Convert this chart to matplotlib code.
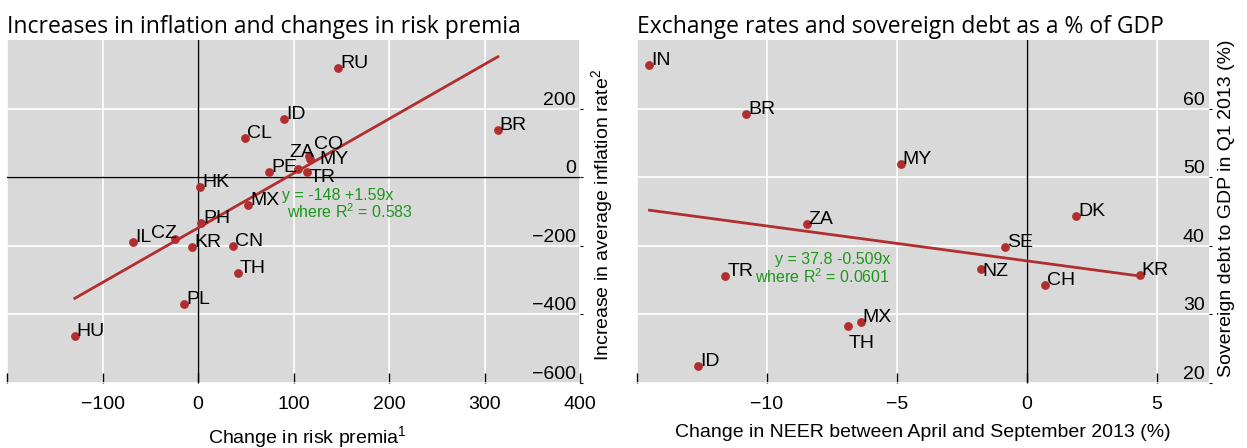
import numpy as np
import matplotlib
matplotlib.use("Agg")
import matplotlib.pyplot as plt

plt.rcParams['font.family'] = ['Liberation Sans', 'DejaVu Sans']
plt.rcParams['mathtext.fontset'] = 'custom'
plt.rcParams['mathtext.rm'] = 'Liberation Sans'
plt.rcParams['mathtext.it'] = 'Liberation Sans:italic'

# left panel: risk premia vs inflation
left_codes = ["RU", "ID", "CL", "BR", "ZA", "CO", "MY", "PE", "TR", "HK",
              "MX", "PH", "IL", "CZ", "KR", "CN", "TH", "PL", "HU"]
left_x = [147, 90, 49, 314, 105, 116, 117, 74.5, 114, 2,
          52.6, 3.3, -68, -24, -5.8, 37, 41.4, -14.5, -129]
left_y = [319, 171, 114, 138, 25, 63, 53, 15.5, 16.5, -28,
          -81, -133, -189, -181, -204, -200, -280, -371, -462]
left_fit = (-148, 1.59)
left_r2 = 0.583

# right panel: NEER vs sovereign debt
right_codes = ["IN", "BR", "MY", "ZA", "DK", "SE", "NZ", "CH", "KR",
               "TR", "MX", "TH", "ID"]
right_x = [-14.52, -10.79, -4.86, -8.47, 1.90, -0.85, -1.78, 0.69, 4.34,
           -11.6, -6.39, -6.87, -12.66]
right_y = [66.3, 59.26, 51.99, 43.12, 44.33, 39.87, 36.57, 34.25, 35.70,
           35.65, 28.96, 28.24, 22.52]
right_fit = (37.8, -0.509)
right_r2 = 0.0601

RED = '#B22E2E'
GREEN = '#1E961E'
BG = '#D9D9D9'
FS = 14
FS_EQ = 11.5

# label offsets in pixels (default is just right of the dot)
left_offsets = {"ZA": (-9, 12), "CO": (5, 7), "MY": (10, -5), "TR": (3, -10),
                "CZ": (2, 1)}
right_offsets = {"NZ": (2, -7), "TH": (0, -22)}

fig = plt.figure(figsize=(12.47, 4.48), dpi=100)
ax1 = fig.add_axes([7/1247, 65/448, 573/1247, 343/448])
ax2 = fig.add_axes([637/1247, 65/448, 572/1247, 343/448])


def style_axes(ax, xticks, xlabels, yticks, xlim, ylim):
    ax.set_facecolor(BG)
    for s in ax.spines.values():
        s.set_visible(False)
    ax.set_xlim(*xlim)
    ax.set_ylim(*ylim)
    ax.set_xticks(xticks)
    ax.set_xticklabels(xlabels)
    ax.set_yticks(yticks)
    ax.grid(True, color='white', linewidth=1.2)
    ax.set_axisbelow(True)
    ax.tick_params(axis='x', direction='in', length=7, width=1, pad=9,
                   labelsize=FS, colors='black')
    ax.yaxis.tick_right()
    ax.tick_params(axis='y', direction='out', length=2, width=0.8, pad=-5,
                   labelsize=FS)
    for t in ax.yaxis.get_major_ticks():
        t.label2.set_ha('right')
        t.label2.set_va('bottom')
    ax.yaxis.set_label_position('right')


def scatter_panel(ax, xs, ys, codes, offsets, fit):
    xs = np.array(xs)
    xr = np.array([xs.min(), xs.max()])
    ax.plot(xr, fit[0] + fit[1] * xr, color=RED, lw=2, zorder=3)
    ax.scatter(xs, ys, s=40, color=RED, zorder=4, linewidths=0)
    for c, x, y in zip(codes, xs, ys):
        dx, dy = offsets.get(c, (2, 0))
        ha = 'right' if c == "CZ" and ax is ax1 else 'left'
        ax.annotate(c, (x, y), xytext=(dx, dy), textcoords='offset pixels',
                    ha=ha, va='baseline', fontsize=FS, zorder=5)


# left panel
style_axes(ax1, [-200, -100, 0, 100, 200, 300, 400],
           ['', '\u2212100', '0', '100', '200', '300', '400'],
           [-600, -400, -200, 0, 200], (-200, 400), (-600, 400))
ax1.set_yticklabels(['\u2212600', '\u2212400', '\u2212200', '0', '200'])
ax1.axhline(0, color='black', lw=1, zorder=2)
ax1.axvline(0, color='black', lw=1, zorder=2)
scatter_panel(ax1, left_x, left_y, left_codes, left_offsets, left_fit)
ax1.text(88, -67, "y = %g +%gx" % left_fit, color=GREEN, fontsize=FS_EQ)
ax1.text(93, -120, "where R$^2$ = %g" % left_r2, color=GREEN, fontsize=FS_EQ)
ax1.set_title("Increases in inflation and changes in risk premia", loc='left',
              family='Open Sans', fontsize=16.5, pad=5)
ax1.set_xlabel("Change in risk premia$^1$", fontsize=FS)
ax1.xaxis.set_label_coords(0.525, -0.12)
ax1.set_ylabel("Increase in average inflation rate$^2$", fontsize=FS)
ax1.yaxis.set_label_coords(1.0157, 0.49)

# right panel
style_axes(ax2, [-15, -10, -5, 0, 5],
           ['', '\u221210', '\u22125', '0', '5'],
           [20, 30, 40, 50, 60], (-15, 7), (20, 70))
ax2.axvline(0, color='black', lw=1, zorder=2)
scatter_panel(ax2, right_x, right_y, right_codes, right_offsets, right_fit)
ax2.text(-9.71, 37.3, "y = %g %gx" % right_fit, color=GREEN, fontsize=FS_EQ)
ax2.text(-10.47, 34.6, "where R$^2$ = %g" % right_r2, color=GREEN, fontsize=FS_EQ)
ax2.set_title("Exchange rates and sovereign debt as a % of GDP", loc='left',
              family='Open Sans', fontsize=16.5, pad=5)
ax2.set_xlabel("Change in NEER between April and September 2013 (%)", fontsize=FS)
ax2.xaxis.set_label_coords(0.5, -0.12)
ax2.set_ylabel("Sovereign debt to GDP in Q1 2013 (%)", fontsize=FS)
ax2.yaxis.set_label_coords(1.0157, 0.51)

fig.savefig('out.png', dpi=100)
